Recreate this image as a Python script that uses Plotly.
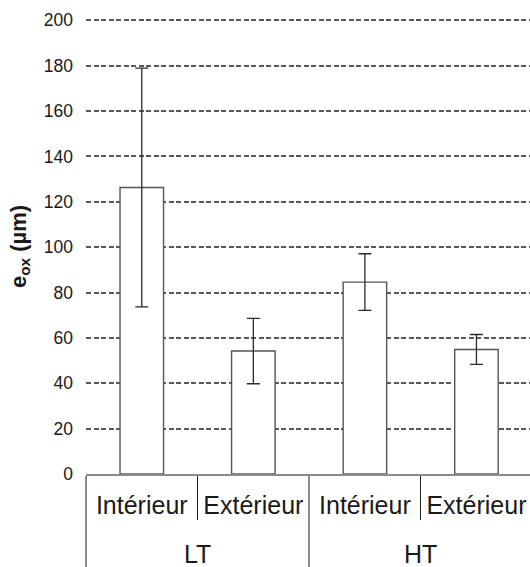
import plotly.graph_objects as go

groups = ["LT", "LT", "HT", "HT"]
positions = ["Intérieur", "Extérieur", "Intérieur", "Extérieur"]
eox_values = [126.3, 54.2, 84.6, 54.9]
eox_errors = [52.6, 14.4, 12.5, 6.6]
y_ticks = [0, 20, 40, 60, 80, 100, 120, 140, 160, 180, 200]

# first-level labels get a small extra line so the group row sits lower
position_labels = [p + "<br><span style='font-size:2px'> </span>" for p in positions]

fig = go.Figure()
fig.add_trace(go.Bar(
    x=[groups, position_labels],
    y=eox_values,
    width=0.39,
    marker=dict(color="white", line=dict(color="#555555", width=1.4)),
    error_y=dict(type="data", array=eox_errors, visible=True,
                 color="#2a2a2a", thickness=1.3, width=6.5),
    showlegend=False,
))

fig.update_layout(
    width=530, height=567,
    margin=dict(l=86, r=0, t=19, b=93, autoexpand=False),
    plot_bgcolor="white", paper_bgcolor="white",
    font=dict(family="Liberation Sans, Arial, sans-serif", color="#1a1a1a"),
    bargap=0.61,
)
fig.update_yaxes(
    range=[0, 200.6], tickvals=y_ticks, automargin=False,
    showgrid=True, gridcolor="#5a5a5a", gridwidth=1.5, griddash="5px,2.5px",
    zeroline=False, showline=False,
    ticks="", ticklabelstandoff=12,
    tickfont=dict(size=17.5),
    title=dict(text="<b>e<sub>ox</sub> (µm)</b>", font=dict(size=22), standoff=11),
)
fig.update_xaxes(
    type="multicategory", automargin=False,
    range=[-0.5, 3.48],
    showline=True, linecolor="#8a8a8a", linewidth=1.5,
    ticks="outside", ticklen=44, tickcolor="#222222", tickwidth=1,
    tickson="boundaries", ticklabelstandoff=8,
    showdividers=True, dividercolor="#8a8a8a", dividerwidth=1.5,
    tickfont=dict(size=25),
    showgrid=False,
)
fig.write_html("out.html", config={"displayModeBar": False},
               post_script="document.body.style.margin='0';document.body.style.overflow='hidden';")
